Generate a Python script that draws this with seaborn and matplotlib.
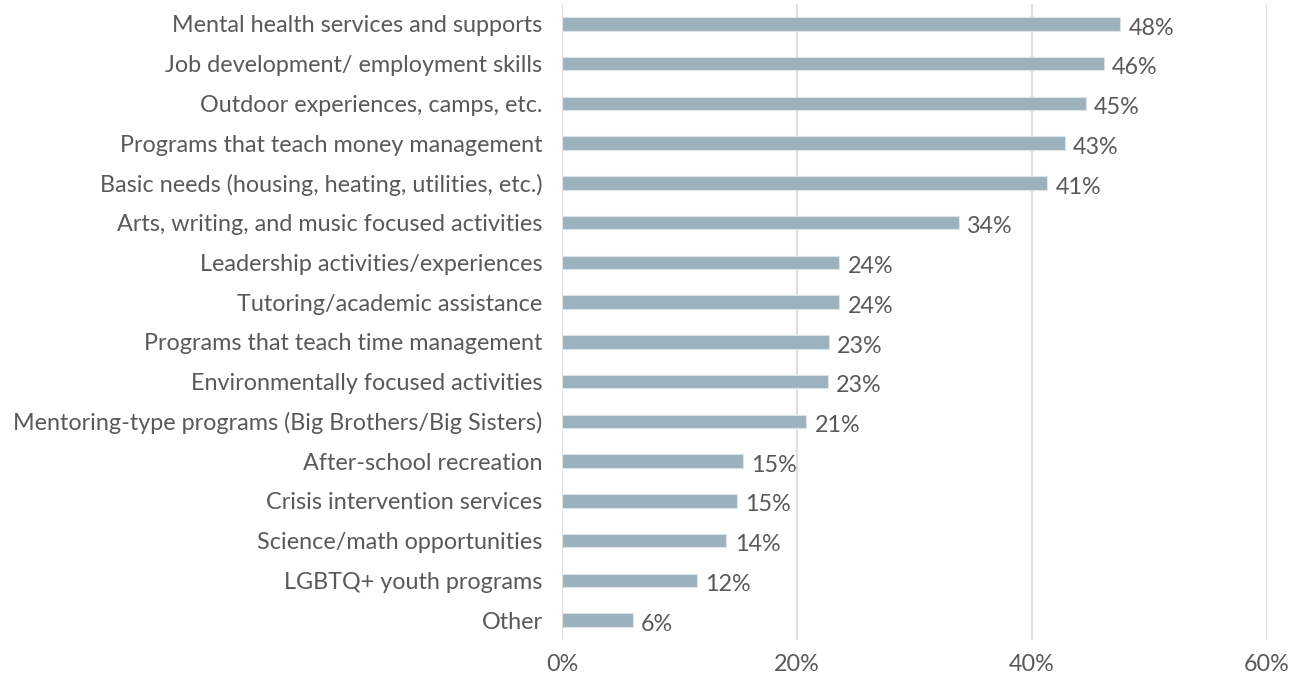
import matplotlib
matplotlib.use("Agg")
import matplotlib.pyplot as plt
import seaborn as sns
import pandas as pd

categories = [
    "Mental health services and supports",
    "Job development/ employment skills",
    "Outdoor experiences, camps, etc.",
    "Programs that teach money management",
    "Basic needs (housing, heating, utilities, etc.)",
    "Arts, writing, and music focused activities",
    "Leadership activities/experiences",
    "Tutoring/academic assistance",
    "Programs that teach time management",
    "Environmentally focused activities",
    "Mentoring-type programs (Big Brothers/Big Sisters)",
    "After-school recreation",
    "Crisis intervention services",
    "Science/math opportunities",
    "LGBTQ+ youth programs",
    "Other",
]
values = [47.5, 46.1, 44.6, 42.8, 41.3, 33.8, 23.6, 23.6, 22.7, 22.6, 20.8, 15.4, 14.9, 14.0, 11.5, 6.0]
value_labels = ["48%", "46%", "45%", "43%", "41%", "34%", "24%", "24%", "23%", "23%",
                "21%", "15%", "15%", "14%", "12%", "6%"]
x_ticks = [0, 20, 40, 60]

df = pd.DataFrame({"item": categories, "pct": values})

sns.set_style("white")
plt.rcParams["font.family"] = ["Lato", "DejaVu Sans"]
text_color = "#595959"
fs = 16.8

fig = plt.figure(figsize=(13.04, 6.8), dpi=100)
ax = fig.add_axes([0.431, 0.059, 0.5405, 0.935])

sns.barplot(data=df, x="pct", y="item", color="#9bb2be", saturation=1,
            width=0.34, edgecolor="#dbe4e9", linewidth=0.8, ax=ax, zorder=3)

for i, (v, lab) in enumerate(zip(values, value_labels)):
    ax.annotate(lab, xy=(v, i), xytext=(6, -3), textcoords="offset points",
                va="center", ha="left", fontsize=fs, color=text_color)

ax.set_xlim(0, 60)
ax.set_xticks(x_ticks)
ax.set_xticklabels([f"{t}%" for t in x_ticks], fontsize=fs, color=text_color)
ax.tick_params(axis="y", labelsize=fs, labelcolor=text_color, length=0, pad=14)
ax.tick_params(axis="x", length=0, pad=10)
ax.grid(axis="x", color="#d9d9d9", linewidth=1.2, zorder=0)
ax.set_xlabel("")
ax.set_ylabel("")
for s in ax.spines.values():
    s.set_visible(False)

fig.savefig("out.png", dpi=100)
